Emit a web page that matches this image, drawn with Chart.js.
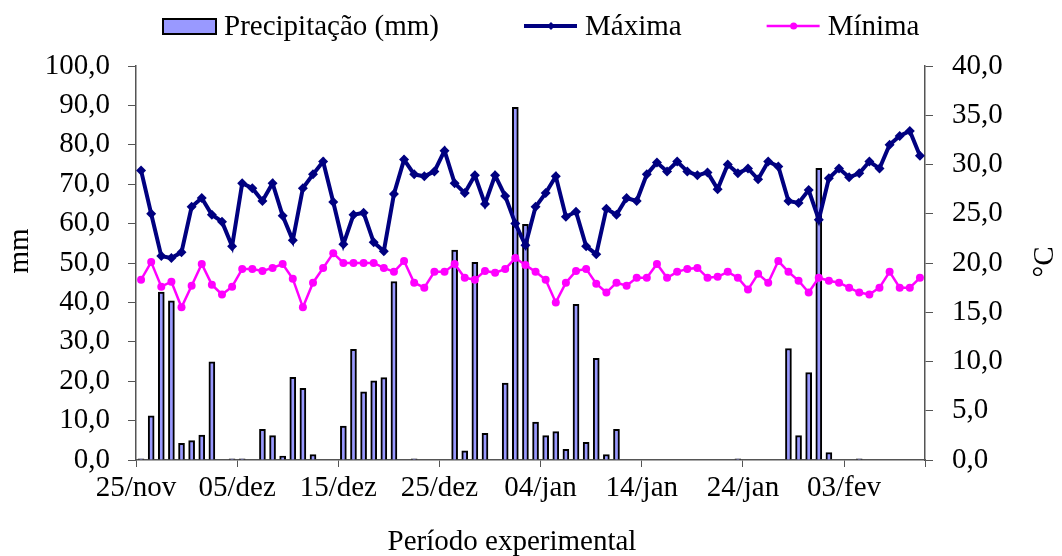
<!DOCTYPE html>
<html>
<head>
<meta charset="utf-8">
<script src="https://cdn.jsdelivr.net/npm/chart.js@4.4.1/dist/chart.umd.min.js"></script>
<style>
  html, body { margin: 0; padding: 0; background: #fff; }
  #wrap { position: relative; width: 1062px; height: 556px; }
</style>
</head>
<body>
<div id="wrap"><canvas id="chart"></canvas></div>
<script>
// one category per day, 25/nov .. 10/fev
const dates = [
  "25/nov","26/nov","27/nov","28/nov","29/nov","30/nov",
  "01/dez","02/dez","03/dez","04/dez","05/dez","06/dez","07/dez","08/dez","09/dez","10/dez",
  "11/dez","12/dez","13/dez","14/dez","15/dez","16/dez","17/dez","18/dez","19/dez","20/dez",
  "21/dez","22/dez","23/dez","24/dez","25/dez","26/dez","27/dez","28/dez","29/dez","30/dez","31/dez",
  "01/jan","02/jan","03/jan","04/jan","05/jan","06/jan","07/jan","08/jan","09/jan","10/jan",
  "11/jan","12/jan","13/jan","14/jan","15/jan","16/jan","17/jan","18/jan","19/jan","20/jan",
  "21/jan","22/jan","23/jan","24/jan","25/jan","26/jan","27/jan","28/jan","29/jan","30/jan","31/jan",
  "01/fev","02/fev","03/fev","04/fev","05/fev","06/fev","07/fev","08/fev","09/fev","10/fev"
]
const tickLabels = ["25/nov","05/dez","15/dez","25/dez","04/jan","14/jan","24/jan","03/fev"]

const precipitacao = [
  0.3, 11.2, 42.6, 40.4, 4.2, 4.9, 6.3, 24.9, 0, 0.3,
  0.3, 0, 7.8, 6.2, 1.0, 21.0, 18.2, 1.4, 0, 0,
  8.6, 28.1, 17.3, 20.1, 20.9, 45.3, 0, 0.3, 0, 0,
  0, 53.3, 2.3, 50.2, 6.8, 0, 19.5, 89.5, 59.8, 9.6,
  6.2, 7.2, 2.7, 39.5, 4.5, 25.8, 1.4, 7.8, 0, 0,
  0, 0, 0, 0, 0, 0, 0, 0, 0, 0.3,
  0, 0, 0, 0, 28.3, 6.2, 22.2, 74.0, 1.9, 0,
  0, 0.3, 0, 0, 0, 0, 0, 0
]
const maxima = [
  29.4, 25.0, 20.7, 20.5, 21.1, 25.7, 26.6, 24.9, 24.2, 21.7,
  28.1, 27.6, 26.3, 28.1, 24.8, 22.3, 27.6, 29.0, 30.3, 26.2,
  21.9, 24.9, 25.1, 22.1, 21.2, 27.0, 30.5, 29.0, 28.8, 29.3,
  31.4, 28.1, 27.1, 28.9, 26.0, 28.9, 26.8, 24.0, 21.8, 25.7,
  27.1, 28.8, 24.7, 25.2, 21.7, 20.9, 25.5, 24.9, 26.6, 26.3,
  29.0, 30.2, 29.3, 30.3, 29.3, 28.9, 29.2, 27.5, 30.0, 29.1,
  29.6, 28.5, 30.3, 29.8, 26.3, 26.1, 27.4, 24.4, 28.6, 29.6,
  28.7, 29.1, 30.3, 29.6, 32.0, 32.9, 33.4, 30.9
]
const minima = [
  18.3, 20.1, 17.6, 18.1, 15.5, 17.7, 19.9, 17.8, 16.8, 17.6,
  19.4, 19.4, 19.2, 19.5, 19.9, 18.4, 15.5, 18.0, 19.5, 21.0,
  20.0, 20.0, 20.0, 20.0, 19.5, 19.1, 20.2, 18.0, 17.5, 19.1,
  19.1, 19.9, 18.5, 18.3, 19.2, 19.0, 19.4, 20.5, 19.8, 19.1,
  18.3, 16.0, 18.0, 19.2, 19.4, 17.9, 17.0, 18.0, 17.7, 18.5,
  18.5, 19.9, 18.5, 19.1, 19.4, 19.5, 18.5, 18.6, 19.1, 18.5,
  17.3, 18.9, 18.0, 20.2, 19.1, 18.2, 17.0, 18.5, 18.2, 18.0,
  17.5, 17.0, 16.8, 17.5, 19.1, 17.5, 17.5, 18.5
]

const FAMILY = '"Liberation Serif", "Times New Roman", serif'
const FONT_SIZE = 29
const AXIS = "#555"

const fmt = v => v.toFixed(1).replace(".", ",")

// titles and legend drawn by hand (rotation / spacing as in the original)
const decor = {
  id: "decor",
  afterDraw(chart) {
    const ctx = chart.ctx
    ctx.save()
    ctx.font = `${FONT_SIZE}px ${FAMILY}`
    ctx.fillStyle = "#000"
    ctx.textBaseline = "middle"
    ctx.textAlign = "center"

    ctx.fillText("Período experimental", 512, 542)

    ctx.save(); ctx.translate(20, 251); ctx.rotate(-Math.PI / 2)
    ctx.fillText("mm", 0, 0); ctx.restore()
    ctx.save(); ctx.translate(1045, 262); ctx.rotate(-Math.PI / 2)
    ctx.fillText("°C", 0, 0); ctx.restore()

    // legend
    ctx.textAlign = "left"
    let x = 163
    const y = 27
    chart.data.datasets.forEach(ds => {
      if (ds.type === "bar") {
        ctx.fillStyle = ds.backgroundColor
        ctx.fillRect(x, y - 8, 53, 15)
        ctx.strokeStyle = "#000"; ctx.lineWidth = 2
        ctx.strokeRect(x, y - 8, 53, 15)
      } else {
        ctx.strokeStyle = ds.borderColor; ctx.lineWidth = ds.borderWidth
        ctx.beginPath(); ctx.moveTo(x, y - 1); ctx.lineTo(x + 53, y - 1); ctx.stroke()
        ctx.fillStyle = ds.borderColor
        ctx.beginPath()
        if (ds.pointStyle === "rectRot") {
          const cx = x + 27, r = 4
          ctx.moveTo(cx, y - 1 - r); ctx.lineTo(cx + r, y - 1); ctx.lineTo(cx, y - 1 + r); ctx.lineTo(cx - r, y - 1)
        } else {
          ctx.arc(x + 27, y - 1, 3.5, 0, Math.PI * 2)
        }
        ctx.fill()
      }
      ctx.fillStyle = "#000"
      ctx.fillText(ds.label, x + 61, y)
      x += 61 + ctx.measureText(ds.label).width + 85
    })
    ctx.restore()
  }
}

Chart.defaults.font.family = FAMILY
Chart.defaults.font.size = FONT_SIZE
Chart.defaults.color = "#000"

new Chart(document.getElementById("chart"), {
  data: {
    labels: dates,
    datasets: [
      { type: "bar", label: "Precipitação (mm)", data: precipitacao, yAxisID: "y",
        backgroundColor: "#9999ff", borderColor: "#000", borderWidth: 2,
        barThickness: 6, order: 3 },
      { type: "line", label: "Máxima", data: maxima, yAxisID: "y1",
        borderColor: "#000080", backgroundColor: "#000080", borderWidth: 4,
        pointStyle: "rectRot", pointRadius: 5, pointBorderWidth: 0, tension: 0, order: 1 },
      { type: "line", label: "Mínima", data: minima, yAxisID: "y1",
        borderColor: "#ff00ff", backgroundColor: "#ff00ff", borderWidth: 2.5,
        pointStyle: "circle", pointRadius: 4, pointBorderWidth: 0, tension: 0, order: 2 }
    ]
  },
  options: {
    responsive: true,
    maintainAspectRatio: false,
    animation: false,
    layout: { padding: { top: 66, left: 0, right: 0, bottom: 0 } },
    plugins: { legend: { display: false }, tooltip: { enabled: false } },
    scales: {
      x: { type: "category", display: false, offset: true },
      xt: {
        type: "linear", axis: "x", position: "bottom", min: 0, max: 78,
        grid: { drawOnChartArea: false, tickLength: 7, color: AXIS },
        border: { color: AXIS, width: 1.5 },
        ticks: { stepSize: 10, autoSkip: false, maxRotation: 0, padding: 4,
          callback: v => tickLabels[v / 10] ?? "" },
        afterFit: s => { s.height = 96 }
      },
      y: {
        position: "left", min: 0, max: 100,
        grid: { drawOnChartArea: false, tickLength: 8, color: AXIS },
        border: { color: AXIS, width: 1.5 },
        ticks: { stepSize: 10, padding: 18, callback: v => fmt(v) },
        afterFit: s => { s.width = 136 }
      },
      y1: {
        position: "right", min: 0, max: 40,
        grid: { drawOnChartArea: false, tickLength: 8, color: AXIS },
        border: { color: AXIS, width: 1.5 },
        ticks: { stepSize: 5, padding: 19, callback: v => fmt(v) },
        afterFit: s => { s.width = 137 }
      }
    }
  },
  plugins: [decor]
})
</script>
</body>
</html>
